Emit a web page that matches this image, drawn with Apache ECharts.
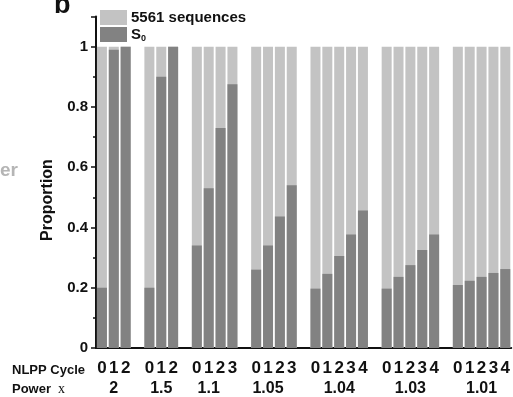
<!DOCTYPE html>
<html>
<head>
<meta charset="utf-8">
<script src="https://cdn.jsdelivr.net/npm/echarts@6/dist/echarts.min.js"></script>
<style>html,body{margin:0;padding:0;background:#fff;}#c{width:513px;height:397px;}</style>
</head>
<body>
<div id="c"></div>
<script>
// NLPP cycle labels per slot ('' = gap between groups)
const cycleLabels = ['0','1','2','', '0','1','2','', '0','1','2','3','', '0','1','2','3','', '0','1','2','3','4','', '0','1','2','3','4','', '0','1','2','3','4'];
// Power x labels (placed under the group's middle bar)
const powerLabels = ['','2','','', '','1.5','','', '','1.1','','','', '','1.05','','','', '','','1.04','','','', '','','1.03','','','', '','','1.01','',''];
// 5561 sequences (total proportion)
const totalValues = [1,1,1,'-', 1,1,1,'-', 1,1,1,1,'-', 1,1,1,1,'-', 1,1,1,1,1,'-', 1,1,1,1,1,'-', 1,1,1,1,1];
// S0 proportion
const s0Values = [0.20,0.99,1.00,'-', 0.20,0.90,1.00,'-', 0.34,0.53,0.73,0.875,'-', 0.26,0.34,0.436,0.54,'-', 0.197,0.246,0.305,0.377,0.456,'-', 0.197,0.236,0.275,0.325,0.377,'-', 0.209,0.223,0.236,0.249,0.262];

const chart = echarts.init(document.getElementById('c'), null, {renderer: 'canvas'});
const FONT = 'Liberation Sans, Arial, sans-serif';
chart.setOption({
  animation: false,
  backgroundColor: '#fff',
  grid: {left: 96, right: 0, top: 16.5, bottom: 45, containLabel: false},
  legend: {
    orient: 'vertical', left: 100, top: 10, padding: 0, itemWidth: 27, itemHeight: 15, itemGap: 2,
    icon: 'rect', selectedMode: false,
    data: ['5561 sequences', 'S0'],
    formatter: n => n === 'S0' ? '{b|S}{sub|0}' : '{b|' + n + '}',
    textStyle: {
      padding: [0, 0, 0, -1],
      rich: {
        b: {fontFamily: FONT, fontWeight: 'bold', fontSize: 15, color: '#111'},
        sub: {fontFamily: FONT, fontWeight: 'bold', fontSize: 9, color: '#111', padding: [8, 0, 0, 0]}
      }
    }
  },
  xAxis: [{
    type: 'category', data: cycleLabels, boundaryGap: true,
    axisLine: {lineStyle: {color: '#111', width: 2}},
    axisTick: {show: false},
    axisLabel: {interval: 0, margin: 12, fontFamily: FONT, fontWeight: 'bold', fontSize: 17, color: '#111'}
  }, {
    type: 'category', data: powerLabels, position: 'bottom', offset: 21, boundaryGap: true,
    axisLine: {show: false}, axisTick: {show: false},
    axisLabel: {interval: 0, margin: 12, fontFamily: FONT, fontWeight: 'bold', fontSize: 16, color: '#111'}
  }],
  yAxis: {
    type: 'value', min: 0, max: 1.1, interval: 0.2,
    splitLine: {show: false},
    axisLine: {show: true, lineStyle: {color: '#111', width: 2}},
    axisTick: {show: true, length: 5, lineStyle: {color: '#111', width: 1.5}},
    minorTick: {show: true, splitNumber: 2, length: 3, lineStyle: {color: '#111', width: 1.5}},
    axisLabel: {
      margin: 8, fontFamily: FONT, fontWeight: 'bold', fontSize: 15, color: '#111',
      formatter: v => { const r = Math.round(v * 10) / 10; return r > 1.05 ? '' : String(r); }
    }
  },
  series: [{
    name: '5561 sequences', type: 'bar', data: totalValues, barWidth: 10, barGap: '-100%',
    itemStyle: {color: '#c3c3c3'}, silent: true
  }, {
    name: 'S0', type: 'bar', data: s0Values, barWidth: 10, barGap: '-100%',
    itemStyle: {color: '#828282'}, silent: true
  }],
  graphic: [
    {type: 'text', left: 54, top: -8, style: {text: 'b', font: 'bold 27px ' + FONT, fill: '#111'}},
    {type: 'text', left: 0, top: 161, style: {text: 'er', font: 'bold 19px ' + FONT, fill: '#b5b5b5'}},
    {type: 'text', x: 48, y: 200, rotation: Math.PI / 2,
      style: {text: 'Proportion', font: 'bold 16px ' + FONT, fill: '#111', align: 'center', verticalAlign: 'middle'}},
    {type: 'text', left: 12, top: 364, style: {text: 'NLPP Cycle', font: 'bold 13px ' + FONT, fill: '#111'}},
    {type: 'text', left: 12, top: 383, style: {text: 'Power', font: 'bold 13px ' + FONT, fill: '#111'}},
    {type: 'text', left: 58, top: 382, style: {text: 'x', font: '14px Liberation Serif, serif', fill: '#111'}}
  ]
});
</script>
</body>
</html>
